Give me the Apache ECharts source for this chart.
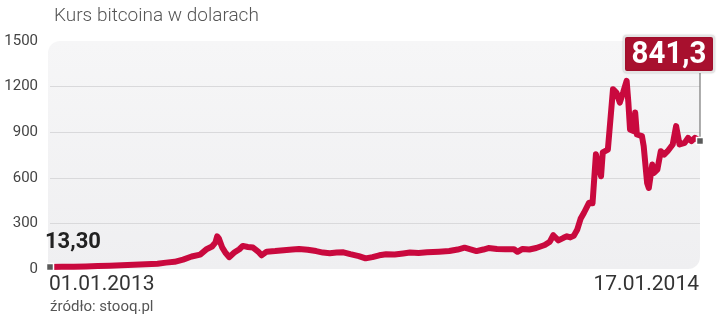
<!DOCTYPE html>
<html>
<head>
<meta charset="utf-8">
<script src="https://cdn.jsdelivr.net/npm/echarts@6/dist/echarts.min.js"></script>
<style>
html,body{margin:0;padding:0;background:#fff;}
#c{width:720px;height:322px;}
</style>
</head>
<body>
<div id="c"></div>
<script>
const dates = [
'2013-01-01','2013-01-08','2013-01-15','2013-01-22','2013-01-29','2013-02-05','2013-02-12','2013-02-19','2013-02-26',
'2013-03-05','2013-03-10','2013-03-15','2013-03-20','2013-03-25','2013-03-30','2013-04-03','2013-04-06','2013-04-08',
'2013-04-09','2013-04-10','2013-04-12','2013-04-14','2013-04-16','2013-04-19','2013-04-22','2013-04-24','2013-04-27',
'2013-04-30','2013-05-03','2013-05-05','2013-05-08','2013-05-13','2013-05-18','2013-05-23','2013-05-27','2013-06-01',
'2013-06-06','2013-06-10','2013-06-14','2013-06-18','2013-06-22','2013-06-26','2013-07-01','2013-07-05','2013-07-09',
'2013-07-13','2013-07-17','2013-07-22','2013-07-27','2013-07-31','2013-08-05','2013-08-10','2013-08-17','2013-08-23',
'2013-08-28','2013-09-01','2013-09-05','2013-09-08','2013-09-12','2013-09-15','2013-09-20','2013-09-25','2013-09-30',
'2013-10-02','2013-10-05','2013-10-09','2013-10-13','2013-10-18','2013-10-21','2013-10-23','2013-10-26','2013-10-29',
'2013-10-31','2013-11-02','2013-11-04','2013-11-06','2013-11-08','2013-11-10','2013-11-13','2013-11-15','2013-11-17',
'2013-11-18','2013-11-20','2013-11-21','2013-11-24','2013-11-27','2013-11-29','2013-12-01','2013-12-03','2013-12-05',
'2013-12-06','2013-12-07','2013-12-09','2013-12-10','2013-12-11','2013-12-14','2013-12-15','2013-12-17','2013-12-18',
'2013-12-20','2013-12-21','2013-12-23','2013-12-25','2013-12-27','2013-12-29','2014-01-01','2014-01-03','2014-01-05',
'2014-01-08','2014-01-10','2014-01-12','2014-01-14','2014-01-17'
];
const prices = [
13.3,14,15,17,19,21,24,28,31,
35,42,47,62,82,95,132,148,175,
215,200,140,105,78,108,130,152,145,
141,115,90,114,118,124,128,132,127,
118,108,104,108,110,98,85,70,78,
90,97,95,102,108,106,110,114,118,
128,140,128,118,128,138,132,130,130,
113,132,128,138,158,180,222,188,205,
215,208,218,258,330,370,436,432,755,
700,610,767,786,1183,1161,1095,1163,1238,
1097,918,907,1029,885,874,808,566,533,
687,632,654,775,753,775,819,940,819,
830,863,841,863,841.3
];
const yTicks = [0, 300, 600, 900, 1200, 1500];
const xTickLabels = ['01.01.2013', '17.01.2014'];
const titleText = 'Kurs bitcoina w dolarach';
const sourceText = 'źródło: stooq.pl';

const lineData = dates.map((d, i) => [d, prices[i]]);
const firstIdx = 0, lastIdx = dates.length - 1;
const fmt = (v, n) => v.toFixed(n).replace('.', ',');

const chart = echarts.init(document.getElementById('c'), null, {renderer: 'canvas'});
const FONT = 'Roboto, "Open Sans", sans-serif';

chart.setOption({
  animation: false,
  backgroundColor: '#ffffff',
  title: {
    text: titleText, left: 49, top: 2,
    textStyle: {fontFamily: FONT, fontWeight: 300, fontSize: 19, color: '#555555'}
  },
  grid: {left: 50, right: 20, top: 41, bottom: 53},
  xAxis: {
    type: 'time',
    min: dates[firstIdx], max: dates[lastIdx],
    axisLine: {show: false}, axisTick: {show: false}, splitLine: {show: false},
    axisLabel: {show: false}
  },
  yAxis: {
    type: 'value', min: yTicks[0], max: yTicks[yTicks.length - 1], interval: yTicks[1] - yTicks[0],
    axisLine: {show: false}, axisTick: {show: false},
    axisLabel: {fontFamily: FONT, fontSize: 15, color: '#444444', margin: 12, padding: [7, 0, 0, 0],
      formatter: (v) => String(v)},
    splitLine: {show: true, lineStyle: {width: 1, color: ['rgba(0,0,0,0)', '#d9d9db', '#d9d9db', '#d9d9db', '#d9d9db', 'rgba(0,0,0,0)']}}
  },
  series: [
    {
      type: 'line', data: lineData, showSymbol: false, smooth: false,
      lineStyle: {color: '#c9093e', width: 6, join: 'round', cap: 'round'},
      z: 3
    },
    {
      type: 'scatter', z: 5,
      symbol: 'rect', symbolSize: 7,
      itemStyle: {color: '#5a5a5a', borderColor: '#ffffff', borderWidth: 1.5, opacity: 1},
      data: [lineData[firstIdx], lineData[lastIdx]]
    }
  ]
});

const p0 = chart.convertToPixel({gridIndex: 0}, lineData[firstIdx]);
const p1 = chart.convertToPixel({gridIndex: 0}, lineData[lastIdx]);
const pTop = chart.convertToPixel({gridIndex: 0}, [dates[lastIdx], yTicks[yTicks.length - 1]]);
const pBot = chart.convertToPixel({gridIndex: 0}, [dates[firstIdx], yTicks[0]]);
chart.setOption({
  graphic: [
    {
      type: 'rect', z: -10, silent: true,
      shape: {x: pBot[0] - 2, y: pTop[1], width: pTop[0] - pBot[0] + 2, height: pBot[1] - pTop[1], r: [12, 0, 12, 0]},
      style: {fill: new echarts.graphic.LinearGradient(0, 0, 0, 1, [
        {offset: 0, color: '#f6f6f7'}, {offset: 1, color: '#efeff1'}])}
    },
    {
      type: 'line', z: 4, silent: true,
      shape: {x1: p1[0], y1: p1[1], x2: p1[0], y2: p1[1] - 70},
      style: {stroke: '#777777', lineWidth: 1.2}
    },
    {
      type: 'rect', z: 6, silent: true,
      shape: {x: p1[0] - 76, y: p1[1] - 105, width: 90, height: 36, r: 3},
      style: {fill: '#a8102e', stroke: '#e4e4e4', lineWidth: 2, shadowColor: 'rgba(0,0,0,0.2)', shadowBlur: 2}
    },
    {
      type: 'text', z: 7, silent: true, x: p1[0] - 31, y: p1[1] - 86.5, scaleX: 0.92,
      style: {text: fmt(prices[lastIdx], 1), fontFamily: FONT, fontWeight: 'bold', fontSize: 32, fill: '#ffffff',
        textAlign: 'center', textVerticalAlign: 'middle'}
    },
    {
      type: 'text', z: 7, silent: true, x: p0[0] - 5, y: p0[1] - 24,
      style: {text: fmt(prices[firstIdx], 2), fontFamily: FONT, fontWeight: 'bold', fontSize: 22, fill: '#222222',
        textAlign: 'left', textVerticalAlign: 'middle'}
    },
    {
      type: 'text', x: p0[0] - 1, y: pBot[1] + 5,
      style: {text: xTickLabels[0], fontFamily: FONT, fontSize: 21, fill: '#333333', textAlign: 'left', textVerticalAlign: 'top'}
    },
    {
      type: 'text', x: p1[0] - 1, y: pBot[1] + 5,
      style: {text: xTickLabels[1], fontFamily: FONT, fontSize: 21, fill: '#333333', textAlign: 'right', textVerticalAlign: 'top'}
    },
    {
      type: 'text', x: 50, y: 300,
      style: {text: sourceText, fontFamily: FONT, fontSize: 15, fill: '#555555', textAlign: 'left', textVerticalAlign: 'top'}
    }
  ]
});
</script>
</body>
</html>
